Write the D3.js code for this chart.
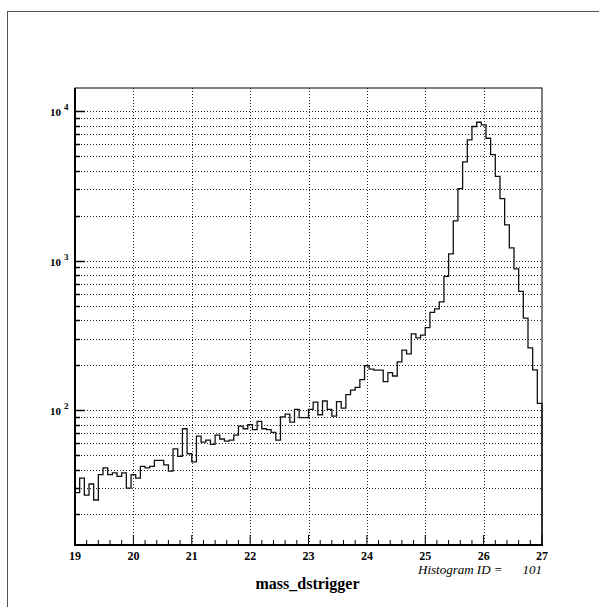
<!DOCTYPE html>
<html>
    <head>
        <title>mass_dstrigger</title>
        <meta charset="UTF-8">
        <script type="text/javascript" src="https://cdn.jsdelivr.net/npm/d3@7"></script>
        <style type="text/css">
            body { margin: 0; background: #fff; }
            text { font-family: "Liberation Serif", "DejaVu Serif", serif; }
        </style>
    </head>
    <body>
        <div id="chart"></div>

        <script type="text/javascript">
            var svgW = 599;
            var svgH = 607;

            // histogram 101, 100 bins from 19 to 27
            var xMin = 19;
            var xMax = 27;
            var counts = [
                28, 35, 27, 32, 25, 37, 41, 37, 38, 36,
                38, 30, 37, 35, 42, 41, 42, 46, 46, 43,
                39, 55, 49, 75, 51, 45, 67, 61, 63, 59,
                68, 64, 62, 63, 68, 78, 75, 80, 74, 84,
                75, 74, 71, 63, 90, 94, 83, 101, 89, 89,
                101, 113, 93, 115, 101, 91, 114, 103, 127, 136,
                142, 160, 198, 188, 185, 185, 155, 178, 169, 210,
                252, 238, 323, 304, 317, 356, 451, 475, 529, 785,
                1109, 1845, 3035, 4583, 6432, 7899, 8438, 8107, 6594, 5128,
                3669, 2602, 1734, 1216, 880, 623, 412, 261, 186, 111
            ];
            var xTicks = [19, 20, 21, 22, 23, 24, 25, 26, 27];
            var yDecades = [100, 1000, 10000];
            var yDomain = [12.5, 14300];
            var xTitle = "mass_dstrigger";
            var idLabel = "Histogram ID =";
            var idValue = "101";

            // plot box (note: "top" is taken by window.top)
            var pL = 75, pR = 542, pT = 88, pB = 545;

            var x = d3.scaleLinear().domain([xMin, xMax]).range([pL, pR]);
            var y = d3.scaleLog().domain(yDomain).range([pB, pT]);

            var svg = d3.select("#chart").append("svg")
                    .attr("width", svgW)
                    .attr("height", svgH);

            // outer pad frame
            svg.append("rect")
                    .attr("x", 7.5).attr("y", 11.5)
                    .attr("width", 620).attr("height", 620)
                    .attr("fill", "none")
                    .attr("stroke", "#555")
                    .attr("stroke-width", 1);

            // grid lines, every 1..9 x 10^n
            var yGrid = [];
            [10, 100, 1000, 10000].forEach(function (d) {
                for (var k = 1; k < 10; k++) {
                    var v = d * k;
                    if (v >= yDomain[0] && v <= yDomain[1]) yGrid.push(v);
                }
            });

            var grid = svg.append("g")
                    .attr("stroke", "#222")
                    .attr("stroke-width", 1)
                    .attr("stroke-dasharray", "1,2");

            grid.selectAll("line.h")
                    .data(yGrid)
                    .enter()
                    .append("line")
                    .attr("x1", pL).attr("x2", pR)
                    .attr("y1", function (d) { return Math.round(y(d)) + 0.5; })
                    .attr("y2", function (d) { return Math.round(y(d)) + 0.5; });

            grid.selectAll("line.v")
                    .data(xTicks.slice(1, -1))
                    .enter()
                    .append("line")
                    .attr("y1", pT).attr("y2", pB)
                    .attr("x1", function (d) { return Math.round(x(d)) + 0.5; })
                    .attr("x2", function (d) { return Math.round(x(d)) + 0.5; });

            // histogram as steps
            var bw = (xMax - xMin) / counts.length;
            var pts = [[x(xMin), pB]];
            counts.forEach(function (c, i) {
                pts.push([x(xMin + i * bw), y(c)]);
                pts.push([x(xMin + (i + 1) * bw), y(c)]);
            });
            pts.push([x(xMax), pB]);

            svg.append("path")
                    .attr("d", d3.line()(pts))
                    .attr("fill", "none")
                    .attr("stroke", "#111")
                    .attr("stroke-width", 1.3);

            // frame
            svg.append("rect")
                    .attr("x", pL).attr("y", pT)
                    .attr("width", pR - pL).attr("height", pB - pT)
                    .attr("fill", "none")
                    .attr("stroke", "#000")
                    .attr("stroke-width", 1);
            svg.append("line")
                    .attr("x1", pL).attr("x2", pL)
                    .attr("y1", pT).attr("y2", pB + 1)
                    .attr("stroke", "#000").attr("stroke-width", 2);
            svg.append("line")
                    .attr("x1", pL - 1).attr("x2", pR + 1)
                    .attr("y1", pB).attr("y2", pB)
                    .attr("stroke", "#000").attr("stroke-width", 2);

            // x ticks, minor every 0.2
            var xMinor = d3.range(xMin, xMax + 0.001, 0.2);
            svg.selectAll("line.xt")
                    .data(xMinor)
                    .enter()
                    .append("line")
                    .attr("x1", function (d) { return x(d); })
                    .attr("x2", function (d) { return x(d); })
                    .attr("y1", pB)
                    .attr("y2", function (d) {
                        return Math.abs(d - Math.round(d)) < 0.01 ? pB - 10 : pB - 5;
                    })
                    .attr("stroke", "#000").attr("stroke-width", 1);

            svg.selectAll("text.xl")
                    .data(xTicks)
                    .enter()
                    .append("text")
                    .attr("x", function (d) { return x(d); })
                    .attr("y", 560)
                    .attr("text-anchor", "middle")
                    .attr("font-size", 12)
                    .attr("font-weight", "bold")
                    .text(function (d) { return d; });

            // y ticks
            svg.selectAll("line.yt")
                    .data(yGrid)
                    .enter()
                    .append("line")
                    .attr("x1", pL)
                    .attr("x2", function (d) {
                        return yDecades.indexOf(d) >= 0 ? pL + 10 : pL + 5;
                    })
                    .attr("y1", function (d) { return Math.round(y(d)) + 0.5; })
                    .attr("y2", function (d) { return Math.round(y(d)) + 0.5; })
                    .attr("stroke", "#000").attr("stroke-width", 1.5);

            var yl = svg.selectAll("g.yl")
                    .data(yDecades)
                    .enter()
                    .append("g")
                    .attr("font-weight", "bold");
            yl.append("text")
                    .attr("x", 61)
                    .attr("y", function (d) { return y(d) + 5; })
                    .attr("text-anchor", "end")
                    .attr("font-size", 11)
                    .text("10");
            yl.append("text")
                    .attr("x", 64)
                    .attr("y", function (d) { return y(d) - 1; })
                    .attr("font-size", 9)
                    .text(function (d) { return Math.round(Math.log10(d)); });

            // labels
            svg.append("text")
                    .attr("x", (pL + pR) / 2 - 1)
                    .attr("y", 589)
                    .attr("text-anchor", "middle")
                    .attr("font-size", 16)
                    .attr("font-weight", "bold")
                    .text(xTitle);

            svg.append("text")
                    .attr("x", 418)
                    .attr("y", 574)
                    .attr("font-size", 13)
                    .attr("font-style", "italic")
                    .text(idLabel);
            svg.append("text")
                    .attr("x", 542)
                    .attr("y", 574)
                    .attr("text-anchor", "end")
                    .attr("font-size", 13)
                    .attr("font-style", "italic")
                    .text(idValue);
        </script>
    </body>
</html>
